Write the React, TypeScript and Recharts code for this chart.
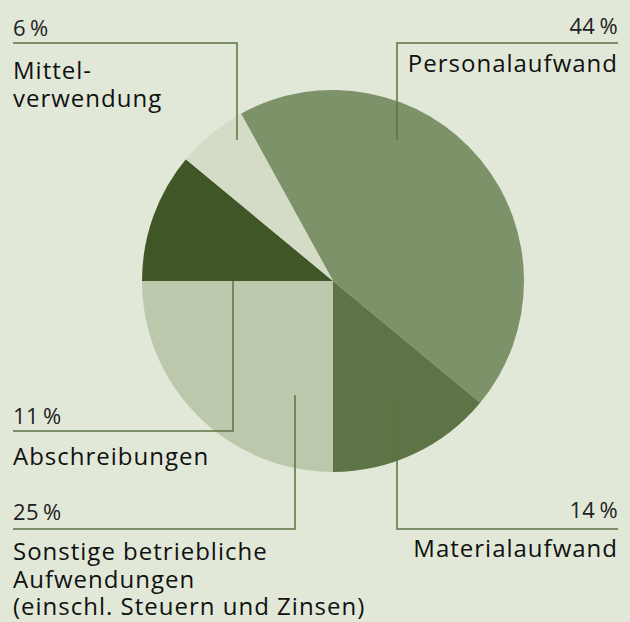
import { PieChart, Pie, Cell } from 'recharts';

const CATEGORIES = [
  'Personalaufwand',
  'Materialaufwand',
  'Sonstige betriebliche Aufwendungen (einschl. Steuern und Zinsen)',
  'Abschreibungen',
  'Mittelverwendung',
];
const SHARES = [44, 14, 25, 11, 6];
const LABEL_LINES = [
  ['Personalaufwand'],
  ['Materialaufwand'],
  ['Sonstige betriebliche', 'Aufwendungen', '(einschl. Steuern und Zinsen)'],
  ['Abschreibungen'],
  ['Mittel-', 'verwendung'],
];
const COLORS = ['#7e926a', '#5e7446', '#bcc8ab', '#415626', '#d4dcc7'];

// leader layout, offsets from pie centre
interface Leader {
  ax: number; ay: number; // anchor inside slice
  ly: number; // horizontal rule
  ex: number; // rule end
  pctY: number; labelY: number;
  right: boolean;
}
const LEADERS: Leader[] = [
  { ax: 64, ay: -141, ly: -238, ex: 285, pctY: -247, labelY: -209, right: true },
  { ax: 64, ay: 114, ly: 248, ex: 285, pctY: 237, labelY: 276, right: true },
  { ax: -38, ay: 114, ly: 248, ex: -320, pctY: 239, labelY: 279, right: false },
  { ax: -100, ay: 0, ly: 150, ex: -320, pctY: 143, labelY: 184, right: false },
  { ax: -96, ay: -141, ly: -238, ex: -320, pctY: -245, labelY: -202, right: false },
];

const BG = '#e2e8d8';
const LINE = '#5b7342';
const FONT = '"Open Sans", sans-serif';

const data = CATEGORIES.map((name, i) => ({ name, value: SHARES[i] }));

// eslint-disable-next-line @typescript-eslint/no-explicit-any
function renderLabel(props: any) {
  const { cx, cy, index, value } = props;
  const l = LEADERS[index];
  const x0 = cx + l.ax;
  const xe = cx + l.ex;
  const anchor = l.right ? 'end' : 'start';
  return (
    <g key={`lbl-${index}`}>
      <polyline
        points={`${x0},${cy + l.ay} ${x0},${cy + l.ly} ${xe},${cy + l.ly}`}
        fill="none"
        stroke={LINE}
        strokeWidth={1.5}
      />
      <text x={xe} y={cy + l.pctY} textAnchor={anchor} fontFamily={FONT} fontSize={22} letterSpacing={0.4} fill="#222">
        {`${value}\u2009%`}
      </text>
      {LABEL_LINES[index].map((t, j) => (
        <text
          key={j}
          x={xe}
          y={cy + l.labelY + j * 27.5}
          textAnchor={anchor}
          fontFamily={FONT}
          fontSize={24}
          letterSpacing={1}
          fill="#111"
        >
          {t}
        </text>
      ))}
    </g>
  );
}

export default function App() {
  return (
    <div style={{ position: 'absolute', left: 0, top: 0, width: 630, height: 622, background: BG }}>
      <PieChart width={630} height={622} margin={{ top: 0, right: 0, bottom: 0, left: 0 }}>
        <Pie
          data={data}
          dataKey="value"
          nameKey="name"
          cx={333}
          cy={281}
          innerRadius={0}
          outerRadius={191}
          startAngle={118.8}
          endAngle={-241.2}
          stroke="none"
          isAnimationActive={false}
          label={renderLabel}
          labelLine={false}
        >
          {data.map((d, i) => (
            <Cell key={d.name} fill={COLORS[i]} />
          ))}
        </Pie>
      </PieChart>
    </div>
  );
}
